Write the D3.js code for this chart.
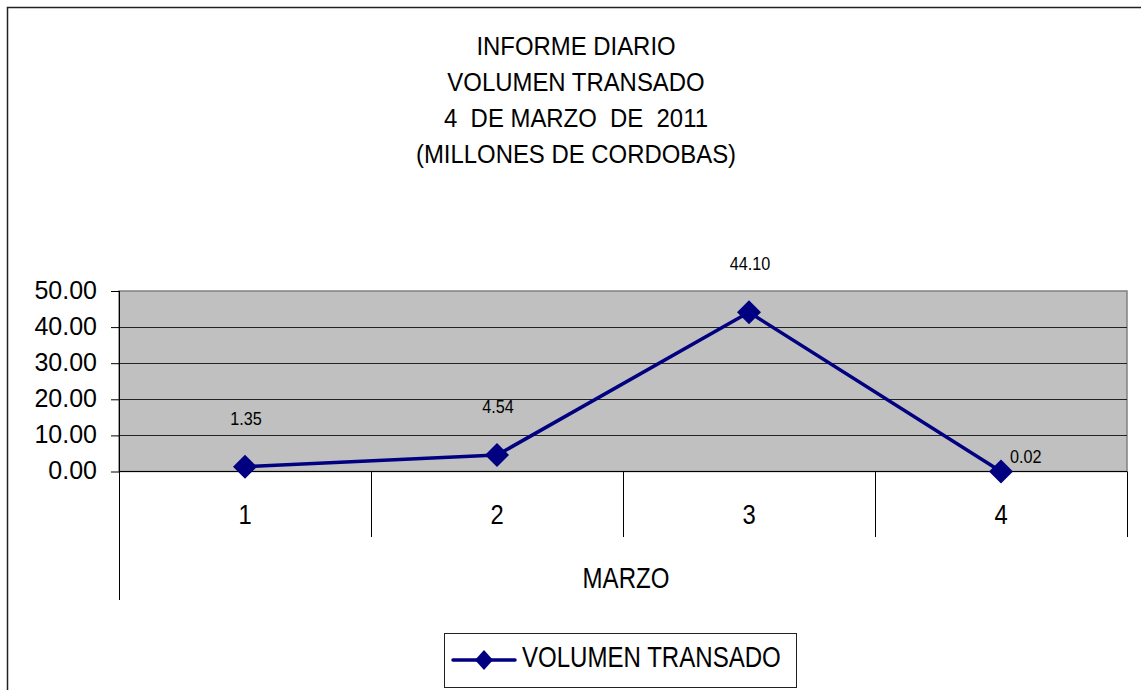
<!DOCTYPE html>
<html>
<head>
<meta charset="utf-8">
<script src="https://cdn.jsdelivr.net/npm/d3@7"></script>
<style>
  body { margin: 0; background: #fff; }
  svg { display: block; font-family: "Liberation Sans", Arial, sans-serif; }
</style>
</head>
<body>
<svg id="chart" width="1141" height="690"></svg>
<script>
const titleLines = ["INFORME DIARIO", "VOLUMEN TRANSADO", "4  DE MARZO  DE  2011", "(MILLONES DE CORDOBAS)"];
const days = ["1", "2", "3", "4"];
const volumen = [1.35, 4.54, 44.10, 0.02];
const labelPlacement = ["above", "above", "above", "right"];
const yTicks = [0, 10, 20, 30, 40, 50];
const seriesName = "VOLUMEN TRANSADO";
const axisTitle = "MARZO";

const svg = d3.select("#chart");
const navy = "#000080";

// plot box
const plotLeft = 119, plotRight = 1127, plotTop = 291, plotBottom = 471.5;

const x = d3.scaleBand().domain(days).range([plotLeft, plotRight]).padding(0);
const y = d3.scaleLinear().domain([0, 50]).range([plotBottom, plotTop]);
const cx = d => x(d) + x.bandwidth() / 2;

// condensed looking text: tall font squeezed horizontally
function label(g, txt, tx, ty, size, sx, anchor) {
  return g.append("text")
    .attr("transform", `translate(${tx},${ty}) scale(${sx},1)`)
    .attr("text-anchor", anchor || "middle")
    .attr("font-size", size)
    .attr("fill", "#000")
    .text(txt);
}

// outer frame
svg.append("rect")
  .attr("x", 7.5).attr("y", 7.5)
  .attr("width", 1160).attr("height", 720)
  .attr("fill", "#fff").attr("stroke", "#222").attr("stroke-width", 1.5);

// title
titleLines.forEach((t, i) => {
  label(svg, t, 576, 55 + i * 36, 26, 0.92).style("white-space", "pre");
});

// plot background
svg.append("rect")
  .attr("x", plotLeft).attr("y", plotTop)
  .attr("width", plotRight - plotLeft).attr("height", plotBottom - plotTop)
  .attr("fill", "#c0c0c0")
  .attr("stroke", "#808080").attr("stroke-width", 1.5);

// gridlines
svg.append("g")
  .selectAll("line")
  .data(yTicks.filter(v => v > 0 && v < 50))
  .join("line")
  .attr("x1", plotLeft).attr("x2", plotRight)
  .attr("y1", d => Math.round(y(d)) + 0.5).attr("y2", d => Math.round(y(d)) + 0.5)
  .attr("stroke", "#222").attr("stroke-width", 1);

// y axis
const yAxis = svg.append("g")
  .attr("transform", `translate(${plotLeft},0)`)
  .call(d3.axisLeft(y).tickValues(yTicks).tickFormat(d3.format(".2f")).tickSize(8).tickPadding(14));
yAxis.select(".domain").remove();
yAxis.selectAll(".tick line").attr("stroke", "#000");
yAxis.selectAll(".tick text")
  .attr("font-family", "Liberation Sans, Arial, sans-serif")
  .attr("font-size", 25).attr("fill", "#000").attr("dy", "0.28em");

// axis lines
svg.append("line")
  .attr("x1", plotLeft + 0.5).attr("x2", plotLeft + 0.5)
  .attr("y1", plotTop).attr("y2", 600)
  .attr("stroke", "#000");
svg.append("line")
  .attr("x1", plotLeft).attr("x2", plotRight)
  .attr("y1", plotBottom).attr("y2", plotBottom)
  .attr("stroke", "#000");

// category separators
svg.append("g")
  .selectAll("line")
  .data(days.slice(1).concat(["end"]))
  .join("line")
  .attr("x1", d => (d === "end" ? plotRight : x(d)) + 0.5)
  .attr("x2", d => (d === "end" ? plotRight : x(d)) + 0.5)
  .attr("y1", plotBottom).attr("y2", 537)
  .attr("stroke", "#000");

// category labels
days.forEach(d => label(svg, d, cx(d), 524, 28, 0.85));

// axis title
label(svg, axisTitle, (plotLeft + plotRight) / 2 + 3, 588, 29, 0.83);

// line
const pts = days.map((d, i) => [cx(d), y(volumen[i])]);
svg.append("path")
  .attr("d", d3.line()(pts))
  .attr("fill", "none")
  .attr("stroke", navy).attr("stroke-width", 3.5)
  .attr("stroke-linejoin", "round");

svg.append("g")
  .selectAll("path")
  .data(pts)
  .join("path")
  .attr("transform", p => `translate(${p[0]},${p[1]})`)
  .attr("d", "M0,-12L12,0L0,12L-12,0Z")
  .attr("fill", navy);

// data labels
volumen.forEach((v, i) => {
  const [px, py] = pts[i];
  if (labelPlacement[i] === "right") {
    label(svg, v.toFixed(2), px + 9, py - 8, 18, 0.9, "start");
  } else {
    label(svg, v.toFixed(2), px + 1, py - 42, 18, 0.9);
  }
});

// legend
const lg = svg.append("g");
lg.append("rect")
  .attr("x", 444.5).attr("y", 633.5)
  .attr("width", 352).attr("height", 54)
  .attr("fill", "#fff").attr("stroke", "#222").attr("stroke-width", 1);
lg.append("line")
  .attr("x1", 453).attr("x2", 515)
  .attr("y1", 660).attr("y2", 660)
  .attr("stroke", navy).attr("stroke-width", 3.5).attr("stroke-linecap", "round");
lg.append("path")
  .attr("transform", "translate(484,660)")
  .attr("d", "M0,-10L9,0L0,10L-9,0Z")
  .attr("fill", navy);
label(lg, seriesName, 522, 667, 29, 0.83, "start");
</script>
</body>
</html>
